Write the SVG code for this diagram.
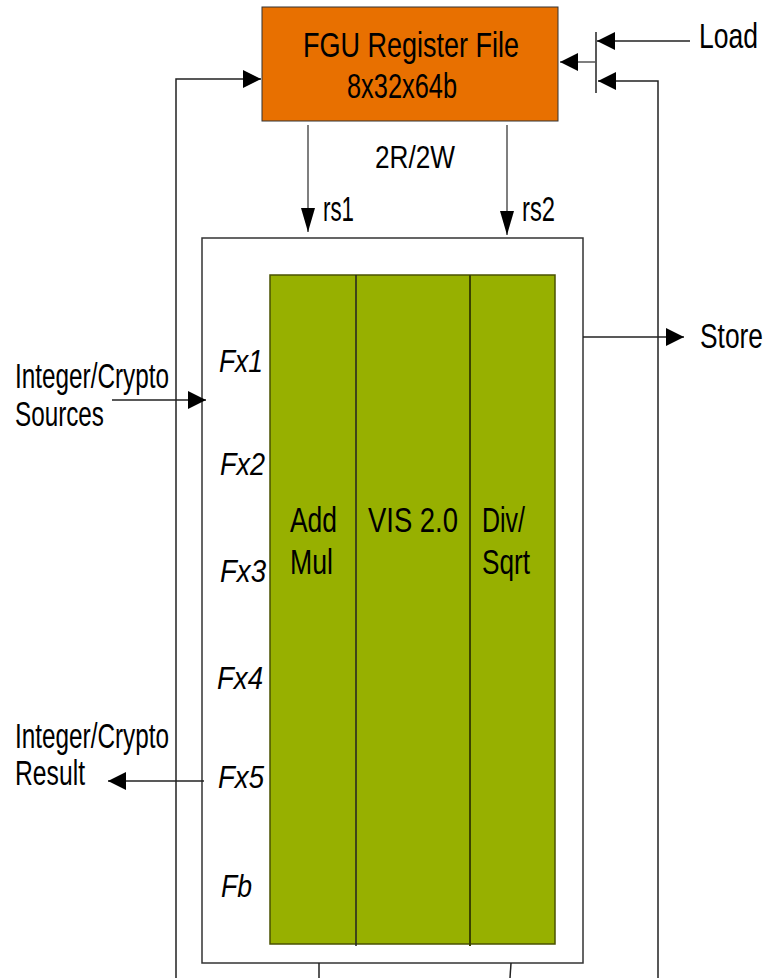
<svg xmlns="http://www.w3.org/2000/svg" width="769" height="978" viewBox="0 0 769 978">
<style>
text{font-family:"Liberation Sans","Arial",sans-serif;font-size:35px;fill:#000}
.it{font-style:italic}
.sm{font-size:32px}
.ln{fill:none;stroke:#222;stroke-width:1.5}
.gl{fill:none;stroke:#555;stroke-width:1.5}
</style>
<defs>
<marker id="ah" markerUnits="userSpaceOnUse" markerWidth="20" markerHeight="20" refX="18" refY="9" orient="auto"><path d="M0,0 L18,9 L0,18 z" fill="#000"/></marker>
<marker id="ahn" markerUnits="userSpaceOnUse" markerWidth="26" markerHeight="16" refX="24" refY="7" orient="auto"><path d="M0,0 L24,7 L0,14 z" fill="#000"/></marker>
</defs>
<rect width="769" height="978" fill="#fff"/>
<g id="regfile">
<rect x="262" y="7" width="296" height="114" fill="#E87000" stroke="#333" stroke-width="1"/>
<text x="303" y="57" textLength="216" lengthAdjust="spacingAndGlyphs">FGU Register File</text>
<text x="347" y="98" textLength="110" lengthAdjust="spacingAndGlyphs">8x32x64b</text>
</g>
<g id="outer">
<rect x="202" y="238" width="381" height="725" fill="#fff" stroke="#333" stroke-width="1.5"/>
</g>
<g id="units">
<rect x="270" y="275" width="285" height="669" fill="#97B000" stroke="#4A5200" stroke-width="1.5"/>
<line x1="356" y1="275" x2="356" y2="946" stroke="#222" stroke-width="1.5"/>
<line x1="470" y1="275" x2="470" y2="946" stroke="#3A4200" stroke-width="2"/>
<text x="290" y="532" textLength="47" lengthAdjust="spacingAndGlyphs">Add</text>
<text x="290" y="574" textLength="43" lengthAdjust="spacingAndGlyphs">Mul</text>
<text x="368" y="532" textLength="90" lengthAdjust="spacingAndGlyphs">VIS 2.0</text>
<text x="482" y="532" textLength="43" lengthAdjust="spacingAndGlyphs">Div/</text>
<text x="482" y="574" textLength="48" lengthAdjust="spacingAndGlyphs">Sqrt</text>
</g>
<g id="stages">
<text class="it sm" x="219" y="372" textLength="44" lengthAdjust="spacingAndGlyphs">Fx1</text>
<text class="it sm" x="220" y="475" textLength="45" lengthAdjust="spacingAndGlyphs">Fx2</text>
<text class="it sm" x="220" y="582" textLength="46" lengthAdjust="spacingAndGlyphs">Fx3</text>
<text class="it sm" x="217" y="689" textLength="46" lengthAdjust="spacingAndGlyphs">Fx4</text>
<text class="it sm" x="218" y="788" textLength="46" lengthAdjust="spacingAndGlyphs">Fx5</text>
<text class="it sm" x="221" y="897" textLength="31" lengthAdjust="spacingAndGlyphs">Fb</text>
</g>
<g id="labels">
<text class="sm" x="375" y="168" textLength="80" lengthAdjust="spacingAndGlyphs">2R/2W</text>
<text x="323" y="221" font-size="30" textLength="31" lengthAdjust="spacingAndGlyphs">rs1</text>
<text x="522" y="221" font-size="30" textLength="33" lengthAdjust="spacingAndGlyphs">rs2</text>
<text x="699" y="48" textLength="59" lengthAdjust="spacingAndGlyphs">Load</text>
<text x="700" y="348" textLength="63" lengthAdjust="spacingAndGlyphs">Store</text>
<text x="15" y="388" font-size="31" textLength="154" lengthAdjust="spacingAndGlyphs">Integer/Crypto</text>
<text x="15" y="426" font-size="31" textLength="89" lengthAdjust="spacingAndGlyphs">Sources</text>
<text x="15" y="748" font-size="31" textLength="154" lengthAdjust="spacingAndGlyphs">Integer/Crypto</text>
<text x="15" y="785" font-size="31" textLength="70" lengthAdjust="spacingAndGlyphs">Result</text>
</g>
<g id="connectors">
<line class="gl" x1="308" y1="125" x2="308" y2="232" marker-end="url(#ahn)"/>
<line class="gl" x1="507" y1="125" x2="507" y2="235" marker-end="url(#ahn)"/>
<polyline class="ln" points="176,978 176,79 261,79" marker-end="url(#ah)"/>
<line class="ln" x1="596" y1="32" x2="596" y2="93"/>
<line class="ln" x1="690" y1="41" x2="597" y2="41" marker-end="url(#ah)"/>
<line class="gl" x1="596" y1="62" x2="560" y2="62" marker-end="url(#ah)"/>
<polyline class="ln" points="658,978 658,81 598,81" marker-end="url(#ah)"/>
<line class="ln" x1="583" y1="337" x2="684" y2="337" marker-end="url(#ah)"/>
<line class="ln" x1="112" y1="400" x2="206" y2="400" marker-end="url(#ah)"/>
<line class="ln" x1="204" y1="781" x2="108" y2="781" marker-end="url(#ah)"/>
<line class="ln" x1="319" y1="963" x2="319" y2="978"/>
<line class="ln" x1="511" y1="963" x2="510" y2="978"/>
</g>
</svg>
